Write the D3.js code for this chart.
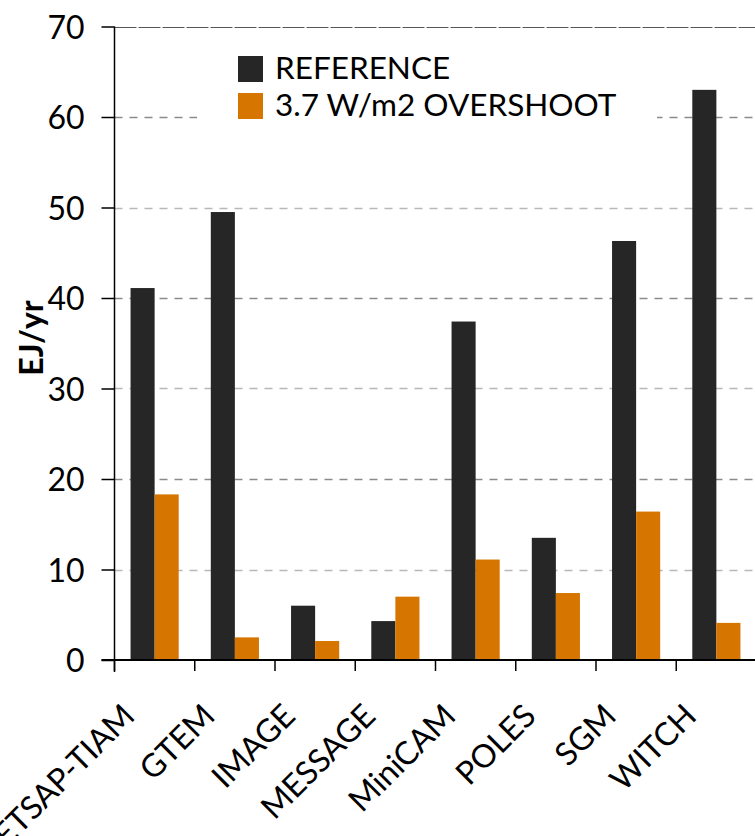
<!DOCTYPE html>
<html>
<head>
<meta charset="utf-8">
<script src="https://cdn.jsdelivr.net/npm/d3@7"></script>
<style>
  html, body { margin: 0; padding: 0; background: #ffffff; }
  svg { display: block; }
  text { font-family: "Lato", "Open Sans", sans-serif; }
</style>
</head>
<body>
<svg id="chart" width="755" height="836"></svg>
<script>
const categories = ["ETSAP-TIAM", "GTEM", "IMAGE", "MESSAGE", "MiniCAM", "POLES", "SGM", "WITCH"];
const seriesNames = ["REFERENCE", "3.7 W/m2 OVERSHOOT"];
const referenceValues = [41.1, 49.5, 6.0, 4.3, 37.4, 13.5, 46.3, 63.0];
const overshootValues = [18.3, 2.5, 2.1, 7.0, 11.1, 7.4, 16.4, 4.1];
const yTicks = [0, 10, 20, 30, 40, 50, 60, 70];
const yTitle = "EJ/yr";

const colors = ["#262626", "#d67500"];
const rows = categories.map((c, i) => ({ cat: c, values: [referenceValues[i], overshootValues[i]] }));

const svg = d3.select("#chart");
const x0 = 114.5, x1end = 756.5, yBottom = 660, yTop = 26.5;

const x = d3.scaleBand().domain(categories).range([x0, x1end]).padding(0);
const xs = d3.scaleBand().domain([0, 1]).range([x.bandwidth() * 0.2, x.bandwidth() * 0.8]).padding(0);
const y = d3.scaleLinear().domain([0, 70]).range([yBottom, yTop]);

// gridlines
const grid = svg.append("g");
yTicks.filter(t => t > 0).forEach((t, i) => {
  grid.append("line")
    .attr("x1", x0).attr("x2", 755)
    .attr("y1", Math.round(y(t)) + 0.5).attr("y2", Math.round(y(t)) + 0.5)
    .attr("stroke", t === 70 ? "#555" : (t % 20 === 0 ? "#8a8a8a" : "#b8b8b8"))
    .attr("stroke-width", t === 70 ? 1.2 : 1.3)
    .attr("stroke-dasharray", t === 70 ? "22,2" : "8,7");
});

// bars
const groups = svg.append("g").selectAll("g").data(rows).join("g")
  .attr("transform", d => `translate(${x(d.cat)},0)`);
groups.selectAll("rect").data(d => d.values.map((v, i) => ({ v, i }))).join("rect")
  .attr("x", d => xs(d.i))
  .attr("width", xs.bandwidth())
  .attr("y", d => y(d.v))
  .attr("height", d => y(0) - y(d.v))
  .attr("fill", d => colors[d.i]);

// legend (white box hides gridline)
const leg = svg.append("g");
leg.append("rect").attr("x", 197).attr("y", 34).attr("width", 460).attr("height", 95).attr("fill", "#fff");
seriesNames.forEach((name, i) => {
  const yy = 56 + i * 37;
  leg.append("rect").attr("x", 238).attr("y", yy).attr("width", 25).attr("height", 26).attr("fill", colors[i]);
  leg.append("text").attr("x", 275).attr("y", yy + 23)
    .attr("font-size", 31.5).attr("fill", "#000").text(name);
});

// y axis
const yAxis = d3.axisLeft(y).tickValues(yTicks).tickSize(13).tickPadding(17).tickFormat(d3.format("d"));
const gy = svg.append("g").attr("transform", `translate(${x0},0)`).call(yAxis);
gy.select(".domain").remove();
gy.selectAll(".tick line").attr("stroke", "#000").attr("stroke-width", 1.5);
gy.selectAll(".tick text").attr("font-size", 32).attr("fill", "#000")
  .attr("font-family", "Lato, sans-serif").attr("dy", "0.36em");
svg.append("line").attr("x1", x0).attr("x2", x0).attr("y1", yTop).attr("y2", yBottom + 12)
  .attr("stroke", "#000").attr("stroke-width", 1.5);

// x axis
svg.append("line").attr("x1", x0 - 13).attr("x2", 755).attr("y1", yBottom).attr("y2", yBottom)
  .attr("stroke", "#000").attr("stroke-width", 2);
const bounds = categories.map(c => x(c));
svg.append("g").selectAll("line").data(bounds).join("line")
  .attr("x1", d => d).attr("x2", d => d).attr("y1", yBottom).attr("y2", yBottom + 11)
  .attr("stroke", "#000").attr("stroke-width", 1.5);
svg.append("g").selectAll("text").data(categories).join("text")
  .attr("transform", d => `translate(${x(d) + x.bandwidth() / 2 - 18},718) rotate(-45)`)
  .attr("text-anchor", "end")
  .attr("font-size", 32).attr("fill", "#000")
  .text(d => d);

// y title
svg.append("text")
  .attr("transform", "translate(43,338) rotate(-90)")
  .attr("text-anchor", "middle")
  .attr("font-family", "'Liberation Sans', Arial, sans-serif")
  .attr("font-weight", "bold").attr("font-size", 32).attr("fill", "#000")
  .text(yTitle);
</script>
</body>
</html>
